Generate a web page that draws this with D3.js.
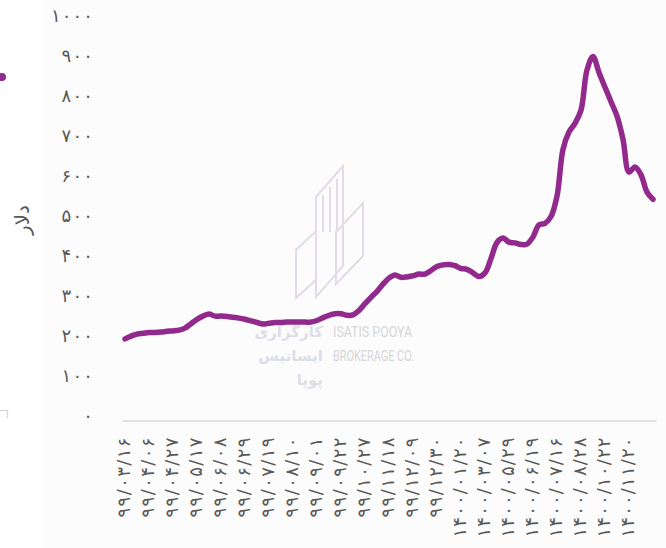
<!DOCTYPE html>
<html>
<head>
<meta charset="utf-8">
<script src="https://cdnjs.cloudflare.com/ajax/libs/d3/7.8.5/d3.min.js"></script>
<style>
html, body { margin: 0; padding: 0; background: #ffffff; overflow: hidden; }
svg { display: block; }
.axis text { font-family: 'DejaVu Sans', sans-serif; fill: #595959; }
</style>
</head>
<body>
<script>
// every 4th category carries a date label
var tickLabels = [
	'۹۹/۰۳/۱۶', '۹۹/۰۴/۰۶', '۹۹/۰۴/۲۷', '۹۹/۰۵/۱۷', '۹۹/۰۶/۰۸', '۹۹/۰۶/۲۹',
	'۹۹/۰۷/۱۹', '۹۹/۰۸/۱۰', '۹۹/۰۹/۰۱', '۹۹/۰۹/۲۲', '۹۹/۱۰/۲۷', '۹۹/۱۱/۱۸',
	'۹۹/۱۲/۰۹', '۹۹/۱۲/۳۰', '۱۴۰۰/۰۱/۲۰', '۱۴۰۰/۰۳/۰۷', '۱۴۰۰/۰۵/۲۹', '۱۴۰۰/۰۶/۱۹',
	'۱۴۰۰/۰۷/۱۶', '۱۴۰۰/۰۸/۲۸', '۱۴۰۰/۱۰/۲۲', '۱۴۰۰/۱۱/۲۰'
];
var labelStep = 4;

// dollars
var values = [
	204, 211, 216, 218, 220, 220, 221, 223, 224, 226,
	231, 242, 253, 261, 266, 261, 261, 260, 258, 256,
	253, 249, 245, 241, 243, 245, 245, 246, 246, 246,
	246, 246, 250, 257, 263, 267, 267, 263, 264, 275,
	292, 308, 323, 341, 356, 364, 358, 359, 362, 366,
	366, 375, 385, 389, 390, 387, 380, 378, 369, 360,
	369, 405, 445, 456, 446, 444, 440, 441, 459, 489,
	493, 510, 561, 678, 721, 743, 776, 876, 910, 870,
	833, 797, 761, 703, 621, 634, 614, 571, 553
];

var yTicks = [ 0, 100, 200, 300, 400, 500, 600, 700, 800, 900, 1000 ];
var yTitle = 'دلار';
var markFa = [ 'کارگزاری', 'ایساتیس', 'پویا' ];
var markEn = [ 'ISATIS POOYA', 'BROKERAGE CO.' ];

var toFa = function ( s ) {
	return String( s ).replace( /\d/g, function ( d ) { return '۰۱۲۳۴۵۶۷۸۹'[d]; } );
};

var sizes = { width: 666, height: 548 };
var plot = { left: 122, right: 656, top: 20.5, bottom: 420.5 };

var els = {};

els.svg = d3.select( 'body' ).append( 'svg' )
	.attr( 'width', sizes.width )
	.attr( 'height', sizes.height );

els.svg.append( 'rect' )
	.attr( 'x', 45 ).attr( 'y', 0 )
	.attr( 'width', sizes.width - 45 ).attr( 'height', sizes.height )
	.attr( 'fill', '#fcfcfc' );

// bits of the neighbouring chart that got cropped in
els.svg.append( 'circle' )
	.attr( 'cx', 2 ).attr( 'cy', 77 ).attr( 'r', 4 )
	.attr( 'fill', '#922a8e' );
els.svg.append( 'path' )
	.attr( 'd', 'M0,410.5H7.5V418' )
	.attr( 'fill', 'none' )
	.attr( 'stroke', '#d4d4d4' )
	.attr( 'stroke-width', 1.2 );

var scales = {};

scales.x = d3.scaleBand()
	.domain( d3.range( values.length ) )
	.range( [ plot.left, plot.right ] );

scales.y = d3.scaleLinear()
	.domain( [ 0, 1000 ] )
	.range( [ plot.bottom, plot.top ] );

// watermark logo + company name
els.mark = els.svg.append( 'g' ).attr( 'id', 'watermark' )
	.attr( 'transform', 'translate(296,166)' );

var logoShapes = [
	[ [ 0, 84 ], [ 20, 65 ], [ 20, 114 ], [ 0, 132 ] ],
	[ [ 20, 31 ], [ 47, 0 ], [ 47, 100 ], [ 20, 131 ] ],
	[ [ 40, 66 ], [ 67, 37 ], [ 67, 90 ], [ 40, 118 ] ]
];
els.mark.selectAll( 'path.shape' )
	.data( logoShapes )
	.enter()
	.append( 'path' )
	.classed( 'shape', true )
	.attr( 'd', function ( d ) { return d3.line()( d ) + 'Z'; } )
	.attr( 'fill', 'none' )
	.attr( 'stroke', '#e4dbe9' )
	.attr( 'stroke-width', 2 );
els.mark.selectAll( 'line.stripe' )
	.data( [ 27, 34, 41 ] )
	.enter()
	.append( 'line' )
	.classed( 'stripe', true )
	.attr( 'x1', function ( d ) { return d; } )
	.attr( 'x2', function ( d ) { return d; } )
	.attr( 'y1', function ( d ) { return 31 - ( d - 20 ) * 1.15 + 6; } )
	.attr( 'y2', 66 )
	.attr( 'stroke', '#e4dbe9' )
	.attr( 'stroke-width', 2 );

els.svg.selectAll( 'text.mark-fa' )
	.data( markFa )
	.enter()
	.append( 'text' )
	.classed( 'mark-fa', true )
	.attr( 'x', 323 )
	.attr( 'y', function ( d, i ) { return 337 + i * 24; } )
	.attr( 'text-anchor', 'end' )
	.attr( 'font-family', 'DejaVu Sans, sans-serif' )
	.attr( 'font-weight', 'bold' )
	.attr( 'font-size', 15 )
	.attr( 'fill', '#dcdee6' )
	.text( function ( d ) { return d; } );

var enWidths = [ 79, 81 ];
els.svg.selectAll( 'text.mark-en' )
	.data( markEn )
	.enter()
	.append( 'text' )
	.classed( 'mark-en', true )
	.attr( 'x', 333 )
	.attr( 'y', function ( d, i ) { return 337 + i * 24; } )
	.attr( 'font-family', 'Roboto, sans-serif' )
	.attr( 'font-size', 15 )
	.attr( 'textLength', function ( d, i ) { return enWidths[i]; } )
	.attr( 'lengthAdjust', 'spacingAndGlyphs' )
	.attr( 'fill', '#d6d6d6' )
	.text( function ( d ) { return d; } );

// axes
els.xAxis = els.svg.append( 'g' ).classed( 'axis', true )
	.attr( 'transform', 'translate(0,' + plot.bottom + ')' )
	.call( d3.axisBottom( scales.x )
		.tickValues( tickLabels.map( function ( d, k ) { return k * labelStep; } ) )
		.tickFormat( function ( i ) { return tickLabels[ i / labelStep ]; } )
		.tickSize( 0 ) );

els.xAxis.select( '.domain' )
	.attr( 'stroke', '#d9d9d9' )
	.attr( 'stroke-width', 1.5 );

// the labels in the original are widely tracked: ~10px per character
els.xAxis.selectAll( 'text' )
	.attr( 'font-size', 18 )
	.attr( 'textLength', function ( i ) { return tickLabels[ i / labelStep ].length * 10; } )
	.attr( 'lengthAdjust', 'spacing' )
	.attr( 'transform', 'rotate(-90)' )
	.attr( 'text-anchor', 'end' )
	.attr( 'x', -17 )
	.attr( 'y', 0 )
	.attr( 'dy', '0.3em' );

els.yAxis = els.svg.append( 'g' ).classed( 'axis', true )
	.attr( 'transform', 'translate(100,0)' )
	.call( d3.axisLeft( scales.y )
		.tickValues( yTicks )
		.tickFormat( toFa )
		.tickSize( 0 )
		.tickPadding( 7 ) );

els.yAxis.select( '.domain' ).remove();
els.yAxis.selectAll( 'text' )
	.attr( 'font-size', 18 )
	.attr( 'textLength', function ( d ) { return String( d ).length * 10.5; } )
	.attr( 'lengthAdjust', 'spacing' )
	.attr( 'dy', '0.05em' );

els.svg.append( 'text' ).classed( 'axis', true )
	.attr( 'transform', 'translate(29,220) rotate(-90)' )
	.attr( 'text-anchor', 'middle' )
	.attr( 'font-family', 'DejaVu Sans, sans-serif' )
	.attr( 'font-size', 20 )
	.attr( 'fill', '#595959' )
	.text( yTitle );

// the series
var line = d3.line()
	.x( function ( d, i ) { return scales.x( i ) + scales.x.bandwidth() / 2; } )
	.y( function ( d ) { return scales.y( d ); } )
	.curve( d3.curveCatmullRom.alpha( 0.5 ) );

els.svg.append( 'path' )
	.datum( values )
	.attr( 'd', line )
	.attr( 'fill', 'none' )
	.attr( 'stroke', '#922a8e' )
	.attr( 'stroke-width', 5.5 )
	.attr( 'stroke-linecap', 'round' )
	.attr( 'stroke-linejoin', 'round' );
</script>
</body>
</html>
